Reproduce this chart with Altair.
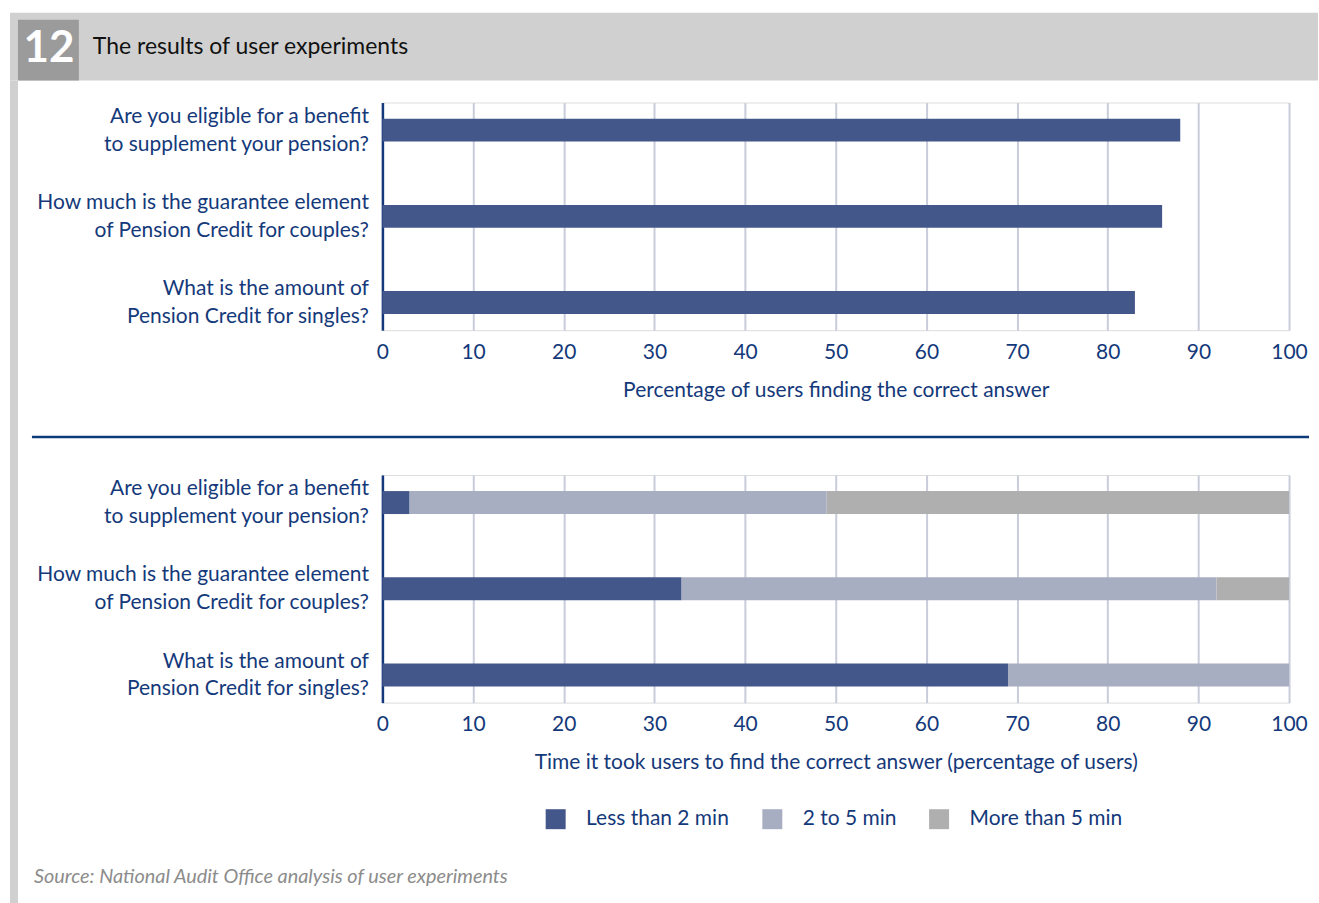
import altair as alt
import pandas as pd

# ---- data ----
questions = [
    "Are you eligible for a benefit|to supplement your pension?",
    "How much is the guarantee element|of Pension Credit for couples?",
    "What is the amount of|Pension Credit for singles?",
]
pct_correct = [88, 86, 83]

time_cats = ["Less than 2 min", "2 to 5 min", "More than 5 min"]
lt2 = [3, 33, 69]
t2to5 = [46, 59, 31]
gt5 = [51, 8, 0]

tick_values = [0, 10, 20, 30, 40, 50, 60, 70, 80, 90, 100]

NAVY = "#14397a"
DARK = "#44578a"
LIGHT = "#a8aec2"
GREY = "#afafaf"
GRID = "#c9ccda"
FONT = "Lato"

W = 908
H = 228

top_df = pd.DataFrame({"question": questions, "pct": pct_correct})

rows = []
for i, q in enumerate(questions):
    for j, (cat, vals) in enumerate(zip(time_cats, [lt2, t2to5, gt5])):
        rows.append({"question": q, "cat": cat, "order": j, "pct": vals[i]})
bot_df = pd.DataFrame(rows)

y_axis = alt.Axis(
    title=None, domain=True, domainColor=NAVY, domainWidth=2.5, ticks=False,
    labelFontSize=21, labelColor=NAVY, labelFont=FONT, labelPadding=14,
    labelAlign="right", labelLimit=500, labelLineHeight=28, labelOffset=-14,
    labelExpr="split(datum.label, '|')",
)


def x_axis(title):
    return alt.Axis(
        title=title, values=tick_values, grid=True, gridColor=GRID, gridWidth=2,
        domain=False, ticks=False, labelFontSize=21, labelColor=NAVY,
        labelFont=FONT, labelPadding=11, labelFlush=False, titleFontSize=21,
        titleFont=FONT, titleColor=NAVY, titleFontWeight="normal", titlePadding=17,
    )


y_scale = alt.Scale(type="point", padding=0.32)
x_scale = alt.Scale(domain=[0, 100], nice=False)

one = pd.DataFrame({"k": [0]})

# ---- top panel ----
top_bars = alt.Chart(top_df).mark_bar(size=23, color=DARK).encode(
    x=alt.X("pct:Q", scale=x_scale, axis=x_axis("Percentage of users finding the correct answer")),
    y=alt.Y("question:N", sort=questions, scale=y_scale, axis=y_axis),
)

band = alt.Chart(one).mark_rect(color="#d0d0d0").encode(
    x=alt.value(-373), x2=alt.value(937), y=alt.value(-90), y2=alt.value(-22)
)
strip = alt.Chart(one).mark_rect(color="#d0d0d0").encode(
    x=alt.value(-373), x2=alt.value(-365), y=alt.value(-22), y2=alt.value(802)
)
box = alt.Chart(one).mark_rect(color="#9b9b9b").encode(
    x=alt.value(-365), x2=alt.value(-304), y=alt.value(-83), y2=alt.value(-22)
)
num = alt.Chart(one).mark_text(
    text="12", color="white", font=FONT, fontSize=44, fontWeight="bold",
    align="center", baseline="middle"
).encode(x=alt.value(-334), y=alt.value(-54))
title = alt.Chart(one).mark_text(
    text="The results of user experiments", color="#111111", font=FONT,
    fontSize=23, align="left", baseline="middle"
).encode(x=alt.value(-290), y=alt.value(-56))
sep = alt.Chart(one).mark_rule(color="#0d3a78", strokeWidth=2.5).encode(
    x=alt.value(-351), x2=alt.value(928), y=alt.value(335)
)

top = alt.layer(band, strip, box, num, title, sep, top_bars).properties(width=W, height=H)

# ---- bottom panel ----
bot_bars = alt.Chart(bot_df).mark_bar(size=23).encode(
    x=alt.X("pct:Q", stack="zero", scale=x_scale,
            axis=x_axis("Time it took users to find the correct answer (percentage of users)")),
    y=alt.Y("question:N", sort=questions, scale=y_scale, axis=y_axis),
    color=alt.Color(
        "cat:N",
        scale=alt.Scale(domain=time_cats, range=[DARK, LIGHT, GREY]),
        legend=alt.Legend(
            title=None, orient="none", legendX=163, legendY=707,
            direction="horizontal", symbolType="square", symbolSize=400,
            symbolStrokeWidth=0, symbolOpacity=1, labelFontSize=21,
            labelColor=NAVY, labelFont=FONT, labelOffset=20,
            columnPadding=32, padding=0,
        ),
    ),
    order=alt.Order("order:Q"),
)
source = alt.Chart(one).mark_text(
    text="Source: National Audit Office analysis of user experiments",
    color="#8c8c8c", font=FONT, fontSize=19.9, fontStyle="italic",
    align="left", baseline="middle"
).encode(x=alt.value(-349), y=alt.value(403))

bottom = alt.layer(bot_bars, source).properties(width=W, height=H)

chart = alt.vconcat(top, bottom, spacing=145, bounds="flush").properties(
    padding={"left": 9, "top": 11, "right": 0, "bottom": 0}
).configure_view(stroke=None).configure(background="white")

chart.save("out.html", embed_options={"renderer": "svg", "actions": False})
